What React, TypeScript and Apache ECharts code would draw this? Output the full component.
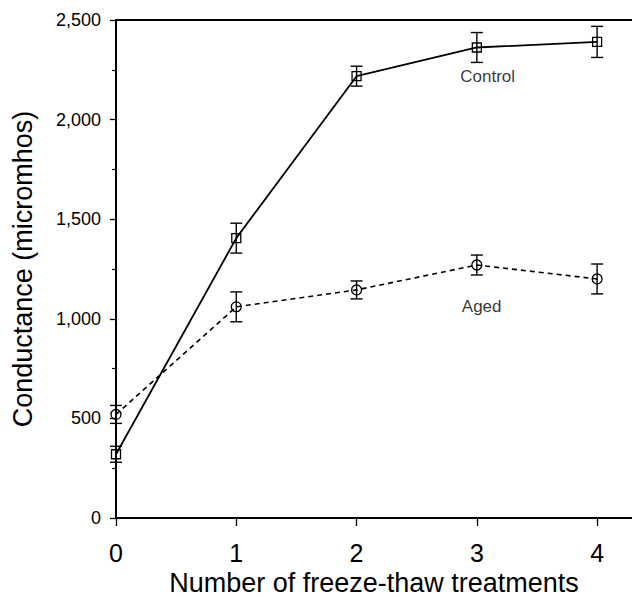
import React, { useEffect, useRef } from "react";
import * as echarts from "echarts";

const treatments = [0, 1, 2, 3, 4];
const controlMean = [320, 1405, 2218, 2362, 2390];
const controlErr = [40, 75, 50, 75, 78];
const agedMean = [520, 1060, 1145, 1270, 1200];
const agedErr = [45, 75, 45, 50, 75];
const yTicks = [0, 500, 1000, 1500, 2000, 2500];
const labelControl = { x: 3.09, y: 2214, text: "Control" };
const labelAged = { x: 3.04, y: 1060, text: "Aged" };

const FONT = "'Liberation Sans', Arial, Helvetica, sans-serif";

function errData(means: number[], errs: number[]) {
  return treatments.map((t, i) => [t, means[i] - errs[i], means[i] + errs[i]]);
}

function errorRender(params: any, api: any) {
  const x = api.value(0);
  const lo = api.coord([x, api.value(1)]);
  const hi = api.coord([x, api.value(2)]);
  const w = 6;
  const style = { stroke: "#000", lineWidth: 1.4 };
  return {
    type: "group",
    children: [
      { type: "line", shape: { x1: lo[0], y1: lo[1], x2: hi[0], y2: hi[1] }, style },
      { type: "line", shape: { x1: lo[0] - w, y1: lo[1], x2: lo[0] + w, y2: lo[1] }, style },
      { type: "line", shape: { x1: hi[0] - w, y1: hi[1], x2: hi[0] + w, y2: hi[1] }, style },
    ],
  };
}

export default function App() {
  const ref = useRef<HTMLDivElement>(null);
  useEffect(() => {
    if (!ref.current) return;
    const chart = echarts.init(ref.current, null, { renderer: "svg" });
    chart.setOption({
      animation: false,
      backgroundColor: "#fff",
      textStyle: { fontFamily: FONT },
      grid: { left: 116, right: 0, top: 20, bottom: 79, containLabel: false, outerBoundsMode: "none" },
      xAxis: [
        {
          type: "value",
          min: 0,
          max: 4.29,
          interval: 1,
          axisLine: { show: true, lineStyle: { color: "#000", width: 2 } },
          axisTick: { show: true, customValues: treatments, length: 8, lineStyle: { color: "#000", width: 1.3 } },
          axisLabel: {
            customValues: treatments,
            fontSize: 25,
            color: "#000",
            margin: 22,
            fontFamily: FONT,
          },
          splitLine: { show: false },
          name: "Number of freeze-thaw treatments",
          nameLocation: "middle",
          nameGap: 50,
          nameTextStyle: { fontSize: 27, color: "#000", fontFamily: FONT },
        },
        {
          type: "value",
          position: "top",
          min: 0,
          max: 4.29,
          axisLine: { show: true, lineStyle: { color: "#000", width: 2 } },
          axisTick: { show: false },
          axisLabel: { show: false },
          splitLine: { show: false },
        },
      ],
      yAxis: {
        type: "value",
        min: 0,
        max: 2500,
        interval: 500,
        axisLine: { show: true, lineStyle: { color: "#000", width: 2 } },
        axisTick: { show: true, length: 6, lineStyle: { color: "#000", width: 1.3 } },
        minorTick: { show: true, splitNumber: 2, length: 4, lineStyle: { color: "#000", width: 1.2 } },
        axisLabel: {
          fontSize: 18,
          color: "#000",
          margin: 15,
          fontFamily: FONT,
          formatter: (v: number) => (yTicks.includes(v) ? v.toLocaleString("en-US") : ""),
        },
        splitLine: { show: false },
        name: "Conductance (micromhos)",
        nameLocation: "middle",
        nameGap: 80,
        nameRotate: 90,
        nameTextStyle: { fontSize: 27, color: "#000", fontFamily: FONT },
      },
      series: [
        {
          type: "custom",
          renderItem: errorRender,
          data: errData(controlMean, controlErr),
          z: 3,
        },
        {
          type: "custom",
          renderItem: errorRender,
          data: errData(agedMean, agedErr),
          z: 3,
        },
        {
          type: "line",
          data: treatments.map((t, i) => [t, controlMean[i]]),
          symbol: "rect",
          symbolSize: 9,
          showAllSymbol: true,
          lineStyle: { color: "#000", width: 1.8, type: "solid" },
          itemStyle: { color: "rgba(255,255,255,0)", borderColor: "#000", borderWidth: 1.3 },
          z: 4,
        },
        {
          type: "line",
          data: treatments.map((t, i) => [t, agedMean[i]]),
          symbol: "circle",
          symbolSize: 10,
          showAllSymbol: true,
          lineStyle: { color: "#000", width: 1.6, type: [5, 4] },
          itemStyle: { color: "rgba(255,255,255,0)", borderColor: "#000", borderWidth: 1.3 },
          z: 4,
        },
        {
          type: "scatter",
          symbolSize: 0,
          data: [
            { value: [labelControl.x, labelControl.y], name: labelControl.text },
            { value: [labelAged.x, labelAged.y], name: labelAged.text },
          ],
          label: {
            show: true,
            position: "inside",
            formatter: (p: any) => p.name,
            fontSize: 17,
            color: "#000",
            fontFamily: FONT,
          },
          silent: true,
        },
      ],
    });
    return () => chart.dispose();
  }, []);
  return (
    <div
      ref={ref}
      style={{ position: "absolute", left: 0, top: 0, width: 632, height: 597, background: "#fff" }}
    />
  );
}
